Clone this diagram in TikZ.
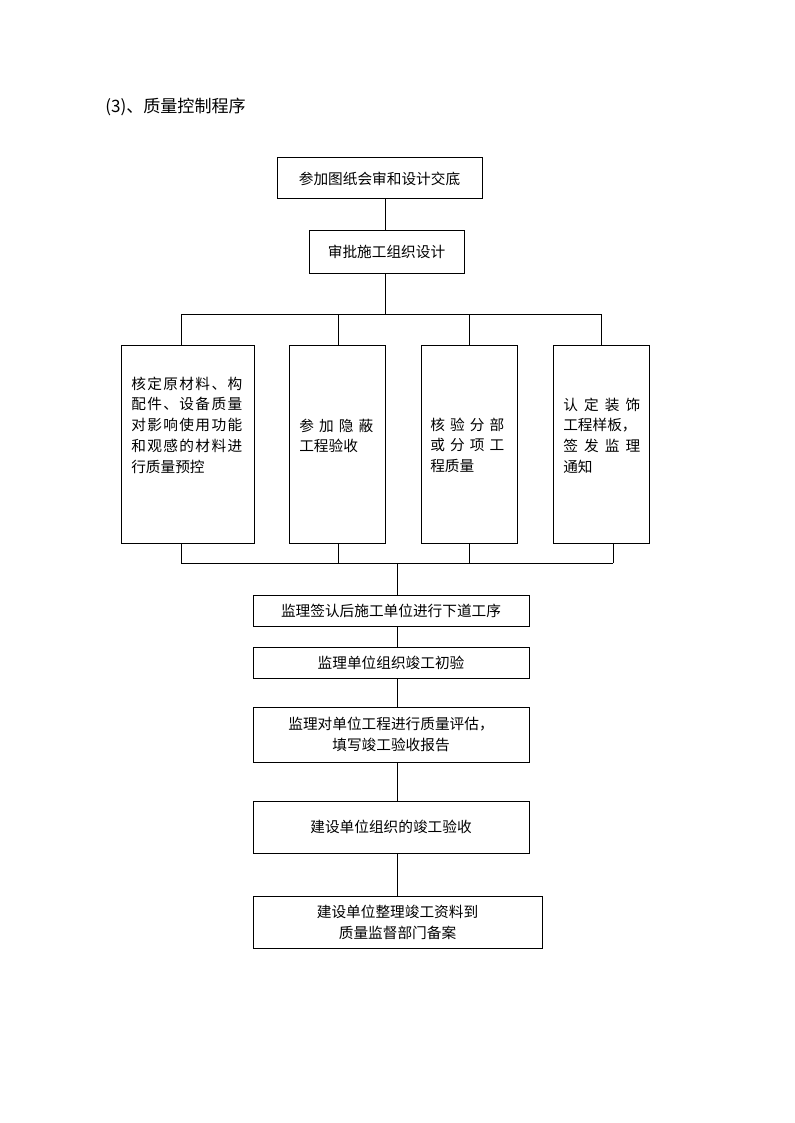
\documentclass[tikz,border=0pt]{standalone}
\usepackage{fontspec}
\setmainfont{Noto Sans CJK SC}
\newcommand\spreadline[1]{\makebox[\linewidth][s]{\spaceskip=0pt plus 1fil\relax #1}}

\begin{document}
\begin{tikzpicture}[x=0.75pt,y=-0.75pt,
    font=\fontsize{11pt}{15.6pt}\selectfont,
    box/.style={draw,line width=0.75pt,inner sep=0pt,align=center},
    boxsize/.style 2 args={minimum width=#1*0.75pt,minimum height=#2*0.75pt},
    txt/.style={anchor=base west,inner sep=0pt,align=left,text width=#1*0.75pt},
    link/.style={line width=0.75pt}]
  \useasboundingbox (0,0) rectangle (794,1123);
  \node[anchor=base west,inner sep=0pt,font=\fontsize{12.8pt}{15pt}\selectfont] (title) at (105,113) {(3)、质量控制程序};

  \node[box,boxsize={205}{41}] (plan) at (379.5,178.5) {参加图纸会审和设计交底};
  \node[box,boxsize={155}{42}] (approve) at (386.5,252) {审批施工组织设计};

  \node[box,boxsize={133}{198}] (m1) at (187.5,444) {};
  \node[box,boxsize={96}{198}] (m2) at (337,444) {};
  \node[box,boxsize={96}{198}] (m3) at (469,444) {};
  \node[box,boxsize={96}{198}] (m4) at (601,444) {};
  \node[txt=111] (t1) at (131,389) {\spreadline{核 定 原 材 料 、 构}\\\spreadline{配 件 、 设 备 质 量}\\\spreadline{对 影 响 使 用 功 能}\\\spreadline{和 观 感 的 材 料 进}\\行质量预控};
  \node[txt=74] (t2) at (299,431) {\spreadline{参 加 隐 蔽}\\工程验收};
  \node[txt=74] (t3) at (430,430) {\spreadline{核 验 分 部}\\\spreadline{或 分 项 工}\\程质量};
  \node[txt=77] (t4) at (563,410) {\spreadline{认 定 装 饰}\\工程样板，\\\spreadline{签 发 监 理}\\通知};

  \node[box,boxsize={276}{31}] (s1) at (391,610.5) {监理签认后施工单位进行下道工序};
  \node[box,boxsize={276}{31}] (s2) at (391,662.5) {监理单位组织竣工初验};
  \node[box,boxsize={276}{55}] (s3) at (391,734.5) {监理对单位工程进行质量评估，\\填写竣工验收报告};
  \node[box,boxsize={276}{52}] (s4) at (391,827) {建设单位组织的竣工验收};
  \node[box,boxsize={289}{52}] (s5) at (397.5,922) {建设单位整理竣工资料到\\质量监督部门备案};

  \coordinate (upper) at (385,314);
  \coordinate (lower) at (397,563);
  \coordinate (d1) at (181,314); \coordinate (d2) at (338,314);
  \coordinate (d3) at (469,314); \coordinate (d4) at (601,314);
  \coordinate (e1) at (181,563); \coordinate (e2) at (338,563);
  \coordinate (e3) at (469,563); \coordinate (e4) at (613,563);

  \draw[link] (plan.south -| upper) -- (approve.north -| upper);
  \draw[link] (approve.south -| upper) -- (upper);
  \draw[link] (d1) -- (d4);
  \draw[link] (e1) -- (e4);
  \foreach \i in {1,...,4} {
    \draw[link] (d\i) -- (d\i |- m\i.north);
    \draw[link] (e\i) -- (e\i |- m\i.south);
  }
  \draw[link] (lower) -- (lower |- s1.north);
  \foreach \a/\b in {s1/s2,s2/s3,s3/s4,s4/s5}
    \draw[link] (\a.south -| lower) -- (\b.north -| lower);
\end{tikzpicture}
\end{document}
